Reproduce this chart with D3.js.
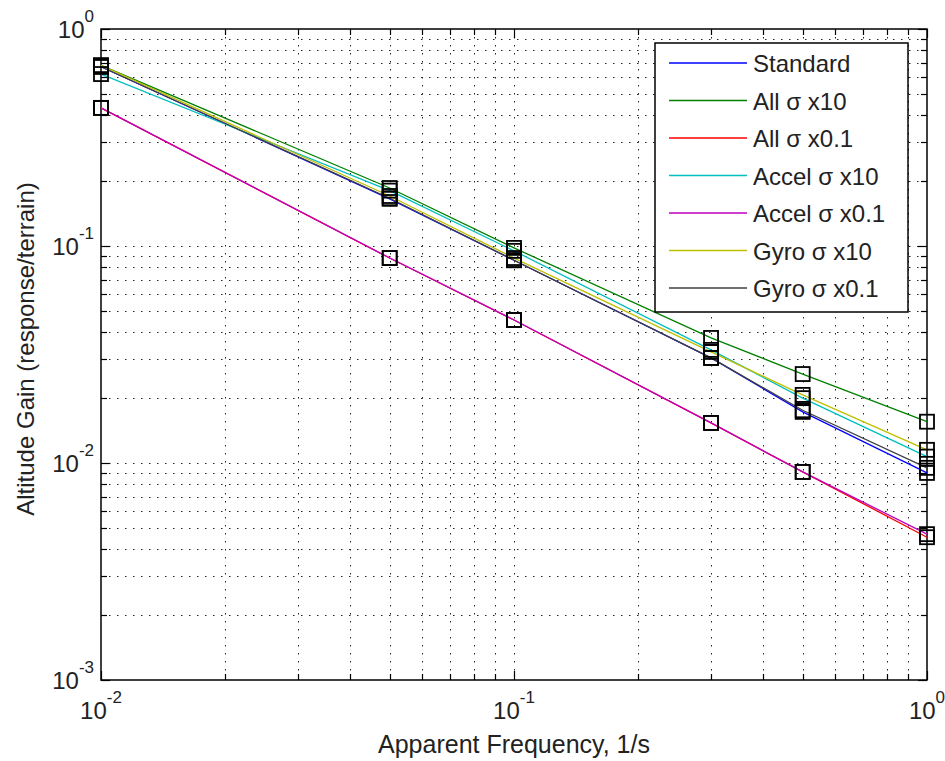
<!DOCTYPE html>
<html>
<head>
<meta charset="utf-8">
<script src="https://cdn.jsdelivr.net/npm/d3@7"></script>
<style>
  body { margin: 0; background: #fff; }
  svg { font-family: "Liberation Sans", Arial, sans-serif; }
</style>
</head>
<body>
<div id="chart"></div>
<script>
// Data
const freq = [0.01, 0.05, 0.1, 0.3, 0.5, 1];
const seriesNames = ['Standard', 'All σ x10', 'All σ x0.1', 'Accel σ x10', 'Accel σ x0.1', 'Gyro σ x10', 'Gyro σ x0.1'];
const standard  = [0.67, 0.165, 0.086, 0.0305, 0.0172, 0.0090];
const allX10    = [0.68, 0.185, 0.098, 0.0377, 0.0257, 0.0155];
const allX01    = [0.433, 0.088, 0.0456, 0.0153, 0.0091, 0.00455];
const accelX10  = [0.62, 0.180, 0.095, 0.0332, 0.0199, 0.0107];
const accelX01  = [0.433, 0.088, 0.0456, 0.0153, 0.0091, 0.0047];
const gyroX10   = [0.68, 0.170, 0.088, 0.0325, 0.0206, 0.0115];
const gyroX01   = [0.67, 0.166, 0.086, 0.0305, 0.0175, 0.0095];
const seriesValues = [standard, allX10, allX01, accelX10, accelX01, gyroX10, gyroX01];
const colors = ['#0000ff', '#008000', '#ff0000', '#00bfbf', '#bf00bf', '#bfbf00', '#404040'];
const xMajor = [0.01, 0.1, 1];
const yMajor = [0.001, 0.01, 0.1, 1];

const width = 945, height = 761;
const plotLeft = 101, plotRight = 927, plotTop = 29, plotBottom = 680;

const svg = d3.select('#chart').append('svg')
    .attr('width', width)
    .attr('height', height);

const x = d3.scaleLog().domain([0.01, 1]).range([plotLeft, plotRight]);
const y = d3.scaleLog().domain([0.001, 1]).range([plotBottom, plotTop]);

// minor tick positions (2..9 in each decade)
function minors(majors) {
  const out = [];
  for (let i = 0; i < majors.length - 1; i++) {
    for (let k = 2; k <= 9; k++) out.push(majors[i] * k);
  }
  return out;
}
const xAll = xMajor.concat(minors(xMajor));
const yAll = yMajor.concat(minors(yMajor));

// grid (dotted)
const grid = svg.append('g')
    .attr('stroke', '#222')
    .attr('stroke-width', 1)
    .attr('stroke-dasharray', '1.5,6.5');
grid.selectAll('.gx')
  .data(xAll.filter(d => d > 0.01 && d < 1))
  .join('line')
    .attr('class', 'gx')
    .attr('x1', d => Math.round(x(d)) + 0.5)
    .attr('x2', d => Math.round(x(d)) + 0.5)
    .attr('y1', plotTop)
    .attr('y2', plotBottom);
grid.selectAll('.gy')
  .data(yAll.filter(d => d > 0.001 && d < 1))
  .join('line')
    .attr('class', 'gy')
    .attr('y1', d => Math.round(y(d)) + 0.5)
    .attr('y2', d => Math.round(y(d)) + 0.5)
    .attr('x1', plotLeft)
    .attr('x2', plotRight);

// ticks inside, on all four sides
const ticks = svg.append('g').attr('stroke', '#000').attr('stroke-width', 1.2);
xAll.forEach(d => {
  const len = xMajor.includes(d) ? 9 : 6;
  const px = Math.round(x(d)) + 0.5;
  ticks.append('line').attr('x1', px).attr('x2', px).attr('y1', plotBottom).attr('y2', plotBottom - len);
  ticks.append('line').attr('x1', px).attr('x2', px).attr('y1', plotTop).attr('y2', plotTop + len);
});
yAll.forEach(d => {
  const len = yMajor.includes(d) ? 9 : 6;
  const py = Math.round(y(d)) + 0.5;
  ticks.append('line').attr('y1', py).attr('y2', py).attr('x1', plotLeft).attr('x2', plotLeft + len);
  ticks.append('line').attr('y1', py).attr('y2', py).attr('x1', plotRight).attr('x2', plotRight - len);
});

// axes box
svg.append('rect')
    .attr('x', plotLeft)
    .attr('y', plotTop)
    .attr('width', plotRight - plotLeft)
    .attr('height', plotBottom - plotTop)
    .attr('fill', 'none')
    .attr('stroke', '#000')
    .attr('stroke-width', 1.5);

// tick labels
const exp = d => Math.round(Math.log10(d));
svg.selectAll('.xl')
  .data(xMajor)
  .join('text')
    .attr('class', 'xl')
    .attr('x', d => x(d))
    .attr('y', 719)
    .attr('text-anchor', 'middle')
    .attr('font-size', 24)
    .attr('fill', '#222')
    .each(function(d) {
      const t = d3.select(this);
      t.append('tspan').text('10');
      t.append('tspan').attr('dy', -16).attr('font-size', 17).text(exp(d));
    });

svg.selectAll('.yl')
  .data(yMajor)
  .join('text')
    .attr('class', 'yl')
    .attr('x', 94)
    .attr('y', d => y(d) + 9)
    .attr('text-anchor', 'end')
    .attr('font-size', 24)
    .attr('fill', '#222')
    .each(function(d) {
      const t = d3.select(this);
      t.append('tspan').text('10');
      t.append('tspan').attr('dy', -16).attr('font-size', 17).text(exp(d));
    });

// axis titles
svg.append('text')
    .attr('x', 514)
    .attr('y', 753)
    .attr('text-anchor', 'middle')
    .attr('font-size', 25)
    .attr('fill', '#222')
    .text('Apparent Frequency, 1/s');

svg.append('text')
    .attr('transform', 'translate(34,349) rotate(-90)')
    .attr('text-anchor', 'middle')
    .attr('font-size', 24)
    .attr('fill', '#222')
    .text('Altitude Gain (response/terrain)');

// series lines
const line = d3.line()
    .x((d, i) => x(freq[i]))
    .y(d => y(d));

const plot = svg.append('g');
plot.selectAll('path')
  .data(seriesValues)
  .join('path')
    .attr('d', d => line(d))
    .attr('fill', 'none')
    .attr('stroke', (d, i) => colors[i])
    .attr('stroke-width', 1.3);

// square markers
const pts = [];
seriesValues.forEach(vals => vals.forEach((v, i) => pts.push([freq[i], v])));
plot.selectAll('rect')
  .data(pts)
  .join('rect')
    .attr('x', d => x(d[0]) - 7)
    .attr('y', d => y(d[1]) - 7)
    .attr('width', 14)
    .attr('height', 14)
    .attr('fill', 'none')
    .attr('stroke', '#000')
    .attr('stroke-width', 1.8);

// legend
const legend = svg.append('g').attr('transform', 'translate(655,43)');
legend.append('rect')
    .attr('width', 253)
    .attr('height', 269)
    .attr('fill', '#fff')
    .attr('stroke', '#000')
    .attr('stroke-width', 1.5);
legend.selectAll('line')
  .data(seriesNames)
  .join('line')
    .attr('x1', 14)
    .attr('x2', 92)
    .attr('y1', (d, i) => 20 + i * 37.5)
    .attr('y2', (d, i) => 20 + i * 37.5)
    .attr('stroke', (d, i) => colors[i])
    .attr('stroke-width', 1.5);
legend.selectAll('text')
  .data(seriesNames)
  .join('text')
    .attr('x', 98)
    .attr('y', (d, i) => 29 + i * 37.5)
    .attr('font-size', 24)
    .attr('fill', '#222')
    .text(d => d);
</script>
</body>
</html>
